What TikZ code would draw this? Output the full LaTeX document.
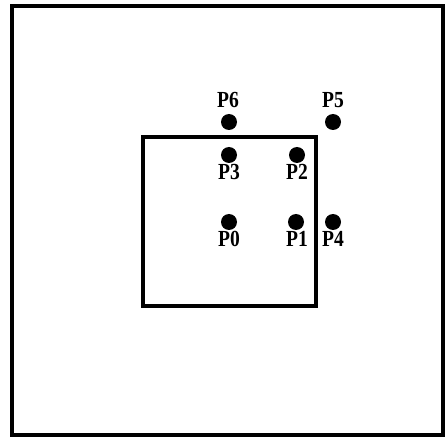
\documentclass[tikz,border=0pt]{standalone}
\usepackage{fontspec}
\setmainfont{Liberation Serif}
\begin{document}
\begin{tikzpicture}[x=1pt,y=-1pt,
  dot/.style={circle,fill=black,inner sep=0pt,minimum size=16pt},
  lab/.style={font=\fontsize{23}{23}\selectfont\bfseries,inner sep=0pt,xscale=0.85,transform shape}]
\useasboundingbox (0,0) rectangle (445,441);
\draw[line width=3.4pt] (12,6) rectangle (443,435);
\draw[line width=3.2pt] (143,137) rectangle (316,306);
\node[dot] (p6) at (229,122) {};
\node[dot] (p5) at (333,122) {};
\node[dot] (p3) at (229,155) {};
\node[dot] (p2) at (297,155) {};
\node[dot] (p0) at (229,222) {};
\node[dot] (p1) at (296,222) {};
\node[dot] (p4) at (333,222) {};
\node[lab] (l6) at (228,100) {P6};
\node[lab] (l5) at (333,100) {P5};
\node[lab] (l3) at (229,172) {P3};
\node[lab] (l2) at (297,172) {P2};
\node[lab] (l0) at (229,239) {P0};
\node[lab] (l1) at (297,239) {P1};
\node[lab] (l4) at (333,239) {P4};
\end{tikzpicture}
\end{document}
